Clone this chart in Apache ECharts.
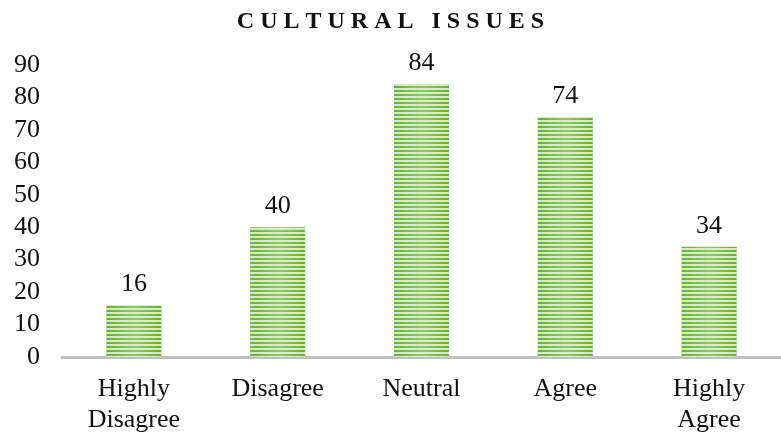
<!DOCTYPE html>
<html>
<head>
<meta charset="utf-8">
<script src="https://cdn.jsdelivr.net/npm/echarts@6/dist/echarts.min.js"></script>
<style>html,body{margin:0;padding:0;background:#fff;}#c{width:781px;height:434px;}</style>
</head>
<body>
<div id="c"></div>
<script>
var titleText = "CULTURAL ISSUES";
var categories = ["Highly\nDisagree", "Disagree", "Neutral", "Agree", "Highly\nAgree"];
var values = [16, 40, 84, 74, 34];
var yTicks = [0, 10, 20, 30, 40, 50, 60, 70, 80, 90];

var serif = "'Liberation Serif', 'Times New Roman', serif";
var chart = echarts.init(document.getElementById('c'), null, {renderer: 'canvas'});
chart.setOption({
  backgroundColor: '#ffffff',
  animation: false,
  title: {
    text: titleText.split('').join(' '),
    left: 'center',
    top: 5,
    textStyle: {fontFamily: serif, fontWeight: 'bold', fontSize: 24, color: '#111'}
  },
  grid: {left: 62, right: 0, top: 65, bottom: 77, containLabel: false, outerBoundsMode: 'none'},
  xAxis: {
    type: 'category',
    data: categories,
    axisLine: {show: true, lineStyle: {color: '#bfbfbf', width: 3}},
    axisTick: {show: false},
    axisLabel: {fontFamily: serif, fontSize: 26, color: '#111', lineHeight: 31, margin: 17, interval: 0}
  },
  yAxis: {
    type: 'value',
    min: yTicks[0],
    max: yTicks[yTicks.length - 1],
    interval: 10,
    splitLine: {show: false},
    axisLine: {show: false},
    axisTick: {show: false},
    axisLabel: {fontFamily: serif, fontSize: 26, color: '#111', margin: 22}
  },
  series: [{
    type: 'bar',
    data: values,
    barWidth: 55,
    itemStyle: {
      color: {
        type: 'linear', x: 0, y: 0, x2: 1, y2: 0,
        colorStops: [
          {offset: 0, color: '#66b234'},
          {offset: 0.5, color: '#8fc966'},
          {offset: 1, color: '#66b234'}
        ]
      },
      decal: {
        symbol: 'rect',
        symbolSize: 1,
        dashArrayX: [1, 0],
        dashArrayY: [2, 2],
        color: 'rgba(230,246,218,0.85)',
        rotation: 0
      }
    },
    label: {
      show: true,
      position: 'top',
      distance: 8,
      fontFamily: serif,
      fontSize: 26,
      color: '#111'
    }
  }]
});
</script>
</body>
</html>
